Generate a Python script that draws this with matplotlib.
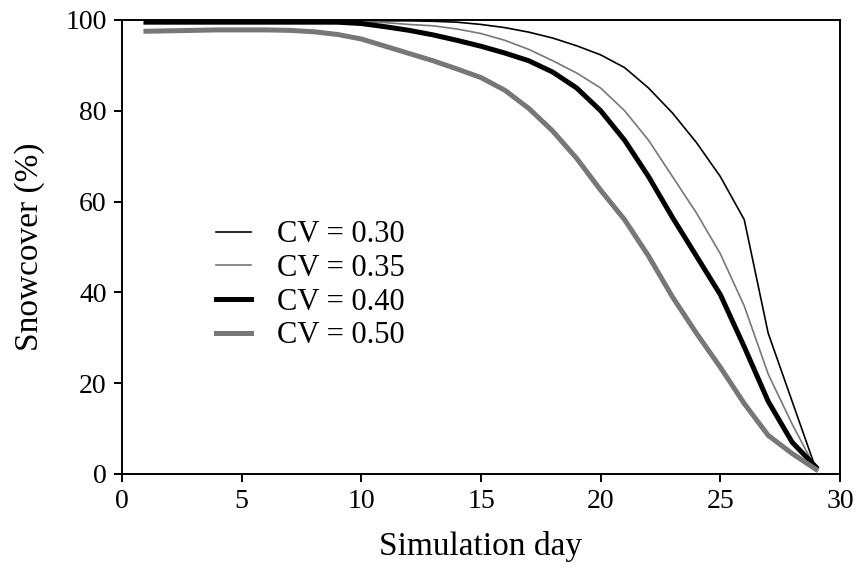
import numpy as np
import matplotlib.pyplot as plt

plt.rcParams['font.family'] = ['Liberation Serif', 'DejaVu Serif']

# simulation days
days = np.arange(1, 30)

# snowcover (%) for each CV
cv030 = [99.8, 99.8, 99.8, 99.8, 99.8, 99.8, 99.8, 99.8, 99.8, 99.8, 99.8, 99.8,
         99.7, 99.5, 99.0, 98.3, 97.3, 96.0, 94.3, 92.3, 89.5, 85.0, 79.5, 73.0,
         65.5, 56.0, 31.0, 16.0, 1.0]
cv035 = [99.6, 99.6, 99.6, 99.6, 99.6, 99.6, 99.6, 99.6, 99.6, 99.6, 99.4, 99.0,
         98.7, 98.0, 97.0, 95.5, 93.5, 91.0, 88.3, 85.0, 80.0, 73.5, 65.5, 57.5,
         48.5, 37.0, 22.0, 11.0, 1.0]
cv040 = [99.5, 99.5, 99.5, 99.5, 99.5, 99.5, 99.5, 99.5, 99.5, 99.2, 98.5, 97.7,
         96.7, 95.5, 94.2, 92.7, 91.0, 88.5, 85.0, 80.0, 73.5, 65.5, 56.5, 48.0,
         39.5, 28.0, 16.0, 7.0, 1.5]
cv050 = [97.5, 97.6, 97.7, 97.8, 97.8, 97.8, 97.7, 97.4, 96.8, 95.8, 94.2, 92.6,
         91.0, 89.2, 87.3, 84.5, 80.5, 75.5, 69.5, 62.5, 56.0, 48.0, 39.0, 31.0,
         23.5, 15.5, 8.5, 4.5, 1.0]

labels = ['CV = 0.30', 'CV = 0.35', 'CV = 0.40', 'CV = 0.50']

fig = plt.figure(figsize=(8.61, 5.69), dpi=100)
ax = fig.add_axes([0.1417, 0.167, 0.8339, 0.798])

gray = '#777777'
ax.plot(days, cv030, color='black', lw=1.2, label=labels[0])
ax.plot(days, cv035, color=gray, lw=1.2, label=labels[1])
ax.plot(days, cv040, color='black', lw=3.6, label=labels[2])
ax.plot(days, cv050, color=gray, lw=3.6, label=labels[3])

ax.set_xlim(0, 30)
ax.set_ylim(0, 100)
ax.set_xticks(range(0, 31, 5))
ax.set_yticks(range(0, 101, 20))
ax.tick_params(direction='out', length=6, width=1.4, labelsize=20, pad=5)
for s in ax.spines.values():
    s.set_linewidth(1.4)

ax.set_xlabel('Simulation day', fontsize=24, labelpad=12)
ax.set_ylabel('Snowcover (%)', fontsize=24, labelpad=15)

ax.legend(loc='upper left', bbox_to_anchor=(0.11, 0.592), frameon=False,
          fontsize=22, handlelength=1.15, handletextpad=0.85, labelspacing=0.15,
          borderpad=0)

fig.savefig('out.png', dpi=100)
